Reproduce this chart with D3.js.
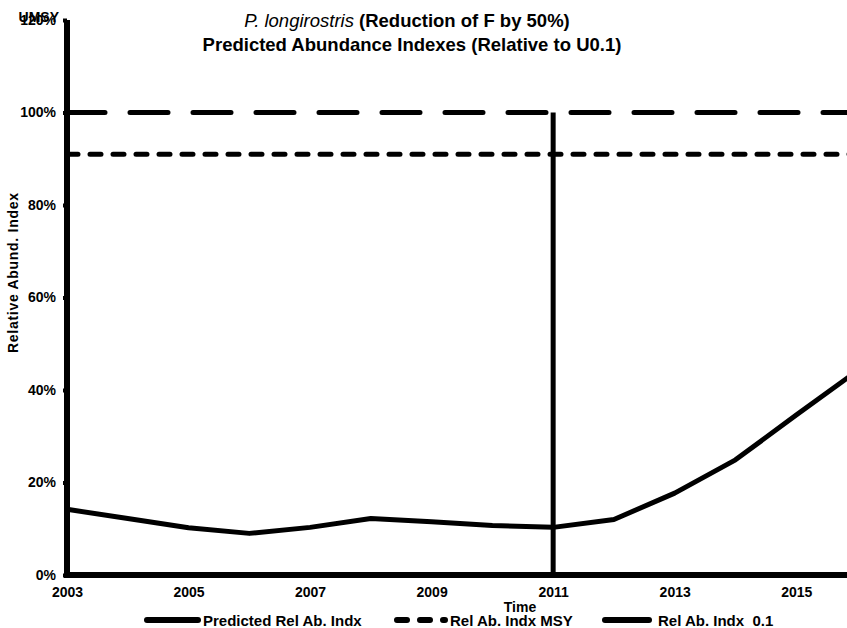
<!DOCTYPE html>
<html>
<head>
<meta charset="utf-8">
<script src="https://cdn.jsdelivr.net/npm/d3@7"></script>
<style>
  body { margin: 0; background: #fff; overflow: hidden; }
  text { font-family: "Liberation Sans", Arial, sans-serif; font-weight: bold; fill: #000; }
</style>
</head>
<body>
<script>
const width = 847;
const height = 628;

// data
const years = [2003, 2004, 2005, 2006, 2007, 2008, 2009, 2010, 2011, 2012, 2013, 2014, 2015, 2016];
const predicted = [0.142, 0.122, 0.102, 0.090, 0.103, 0.122, 0.115, 0.107, 0.103, 0.120, 0.177, 0.249, 0.346, 0.441];
const msyLevel = 0.91;
const u01Level = 1.0;
const u01Year = 2011;
const yTicks = [0, 0.2, 0.4, 0.6, 0.8, 1.0, 1.2];
const xTicks = [2003, 2005, 2007, 2009, 2011, 2013, 2015];
const legendLabels = ['Predicted Rel Ab. Indx', 'Rel Ab. Indx MSY', 'Rel Ab. Indx  0.1'];

const svg = d3.select('body').append('svg')
  .attr('width', width)
  .attr('height', height);

const x = d3.scaleLinear().domain([2003, 2016]).range([67, 857]);
const y = d3.scaleLinear().domain([0, 1.2]).range([575, 20]);

// title
const title = svg.append('text')
  .attr('x', 407)
  .attr('y', 27)
  .attr('text-anchor', 'middle')
  .style('font-size', '18.5px');
title.append('tspan')
  .style('font-style', 'italic')
  .style('font-weight', 'normal')
  .text('P. longirostris ');
title.append('tspan').text('(Reduction of F by 50%)');

svg.append('text')
  .attr('x', 412)
  .attr('y', 51)
  .attr('text-anchor', 'middle')
  .style('font-size', '18.5px')
  .text('Predicted Abundance Indexes (Relative to U0.1)');

// y axis
const yAxis = svg.append('g')
  .attr('transform', `translate(${x(2003)},0)`)
  .call(d3.axisLeft(y).tickValues(yTicks).tickSize(4).tickPadding(7).tickFormat(d3.format('.0%')));
yAxis.select('.domain').remove();
yAxis.selectAll('line').attr('stroke', '#000').attr('stroke-width', 4);
yAxis.selectAll('text').style('font-size', '14px');

// stray label overlapping the top tick
svg.append('text')
  .attr('x', 59)
  .attr('y', 22)
  .attr('text-anchor', 'end')
  .style('font-size', '14px')
  .text('UMSY');

// x axis labels
svg.append('g')
  .attr('transform', 'translate(0,575)')
  .call(d3.axisBottom(x).tickValues(xTicks).tickSize(0).tickPadding(12).tickFormat(d3.format('d')))
  .call(g => g.select('.domain').remove())
  .selectAll('text').style('font-size', '14px');

svg.append('text')
  .attr('x', 520)
  .attr('y', 612)
  .attr('text-anchor', 'middle')
  .style('font-size', '14px')
  .text('Time');

svg.append('text')
  .attr('transform', 'translate(18,273) rotate(-90)')
  .attr('text-anchor', 'middle')
  .attr('textLength', 160)
  .style('font-size', '14px')
  .text('Relative Abund. Index');

// reference lines
svg.append('line')
  .attr('x1', x(2003)).attr('x2', width + 20)
  .attr('y1', y(u01Level)).attr('y2', y(u01Level))
  .attr('stroke', '#000').attr('stroke-width', 5)
  .attr('stroke-linecap', 'round')
  .attr('stroke-dasharray', '38,25');

svg.append('line')
  .attr('x1', x(2003)).attr('x2', width + 20)
  .attr('y1', y(msyLevel)).attr('y2', y(msyLevel))
  .attr('stroke', '#000').attr('stroke-width', 5)
  .attr('stroke-linecap', 'round')
  .attr('stroke-dasharray', '11,12');

svg.append('line')
  .attr('x1', x(u01Year)).attr('x2', x(u01Year))
  .attr('y1', y(u01Level)).attr('y2', y(0))
  .attr('stroke', '#000').attr('stroke-width', 5);

// predicted series
const line = d3.line()
  .x((d, i) => x(years[i]))
  .y(d => y(d));

svg.append('path')
  .datum(predicted)
  .attr('fill', 'none')
  .attr('stroke', '#000')
  .attr('stroke-width', 5)
  .attr('stroke-linejoin', 'round')
  .attr('d', line);

// axis lines
svg.append('line')
  .attr('x1', x(2003)).attr('x2', x(2003))
  .attr('y1', y(1.2)).attr('y2', y(0) + 3)
  .attr('stroke', '#000').attr('stroke-width', 6);
svg.append('line')
  .attr('x1', x(2003) - 3).attr('x2', width + 20)
  .attr('y1', y(0)).attr('y2', y(0))
  .attr('stroke', '#000').attr('stroke-width', 6);

// legend
const legendItems = [
  { x1: 147, x2: 198, tx: 203, dash: null },
  { x1: 397, x2: 445, tx: 450, dash: '10,13' },
  { x1: 605, x2: 649, tx: 658, dash: null }
];
const legend = svg.append('g').selectAll('g')
  .data(legendLabels)
  .enter().append('g');

legend.append('line')
  .attr('x1', (d, i) => legendItems[i].x1)
  .attr('x2', (d, i) => legendItems[i].x2)
  .attr('y1', 620).attr('y2', 620)
  .attr('stroke', '#000').attr('stroke-width', 6)
  .attr('stroke-linecap', 'round')
  .attr('stroke-dasharray', (d, i) => legendItems[i].dash);

legend.append('text')
  .attr('x', (d, i) => legendItems[i].tx)
  .attr('y', 626)
  .attr('xml:space', 'preserve')
  .style('white-space', 'pre')
  .style('font-size', '15px')
  .text(d => d);
</script>
</body>
</html>
